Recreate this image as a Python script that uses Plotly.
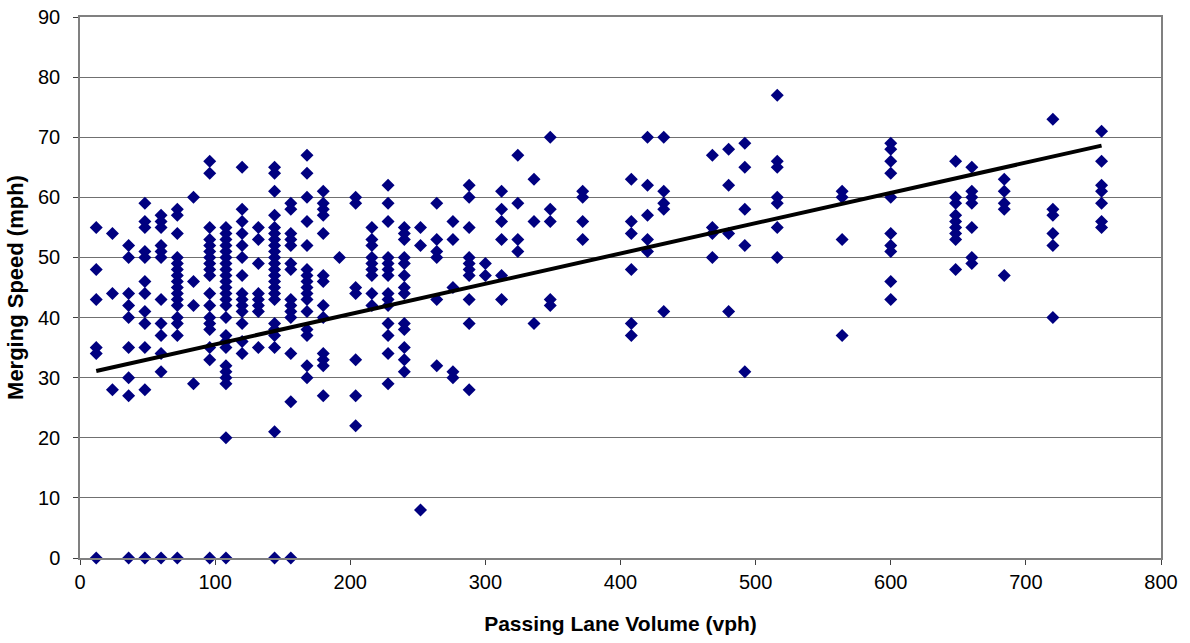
import numpy as np
import plotly.graph_objects as go

# Passing lane volume levels (vph) and the merging speeds (mph) observed at each
volume_levels = [12, 24, 36, 48, 60, 72, 84, 96, 108, 120, 132, 144, 156, 168, 180,
                 192, 204, 216, 228, 240, 252, 264, 276, 288, 300, 312, 324, 336, 348,
                 372, 408, 420, 432, 468, 480, 492, 516, 564, 600, 648, 660, 684, 720, 756]

speeds_by_level = [
    [55, 48, 43, 35, 34, 0],
    [54, 44, 28],
    [52, 50, 44, 42, 40, 35, 30, 27, 0],
    [59, 56, 55, 51, 50, 46, 44, 41, 39, 35, 28, 0],
    [57, 56, 55, 52, 51, 50, 43, 39, 37, 34, 31, 0],
    [58, 57, 54, 50, 49, 48, 47, 46, 45, 44, 43, 42, 40, 39, 37, 0],
    [60, 46, 42, 29],
    [66, 64, 55, 53, 52, 51, 50, 49, 48, 47, 44, 42, 40, 39, 38, 35, 33, 0],
    [55, 54, 53, 52, 51, 50, 49, 48, 47, 46, 45, 44, 43, 42, 40, 37, 36, 35, 32, 31, 30, 29, 20, 0],
    [65, 58, 56, 54, 52, 50, 47, 44, 43, 42, 41, 39, 36, 34],
    [55, 53, 49, 44, 43, 42, 41, 35],
    [65, 64, 61, 57, 55, 54, 53, 52, 51, 50, 49, 48, 47, 46, 45, 44, 43, 39, 38, 37, 35, 21, 0],
    [59, 58, 54, 53, 52, 49, 48, 43, 42, 41, 40, 34, 26, 0],
    [67, 64, 60, 56, 52, 48, 47, 46, 45, 44, 43, 41, 38, 37, 32, 30],
    [61, 59, 58, 57, 54, 47, 46, 42, 40, 34, 33, 32, 27],
    [50],
    [60, 59, 45, 44, 33, 27, 22],
    [55, 53, 52, 50, 49, 48, 47, 44, 42],
    [62, 59, 56, 50, 49, 48, 47, 44, 43, 42, 39, 37, 34, 29],
    [55, 54, 53, 50, 49, 47, 45, 44, 39, 38, 35, 33, 31],
    [55, 52, 8],
    [59, 53, 51, 50, 43, 32],
    [56, 53, 45, 31, 30],
    [62, 60, 55, 50, 49, 48, 47, 43, 39, 28],
    [49, 47],
    [61, 58, 56, 53, 47, 43],
    [67, 59, 53, 51],
    [63, 56, 39],
    [70, 58, 56, 43, 42],
    [61, 60, 56, 53],
    [63, 56, 54, 48, 39, 37],
    [70, 62, 57, 53, 51],
    [70, 61, 59, 58, 41],
    [67, 55, 54, 50],
    [68, 62, 54, 41],
    [69, 65, 58, 52, 31],
    [77, 66, 65, 60, 59, 55, 50],
    [61, 60, 53, 37],
    [69, 68, 66, 64, 60, 54, 52, 51, 46, 43],
    [66, 60, 59, 57, 56, 55, 54, 53, 48],
    [65, 61, 60, 59, 55, 50, 49],
    [63, 61, 59, 58, 47],
    [73, 58, 57, 54, 52, 40],
    [71, 66, 62, 61, 59, 56, 55],
]

# Linear trend line: speed = trend_intercept + trend_slope * volume
trend_slope = 0.0504
trend_intercept = 30.5

x_ticks = [0, 100, 200, 300, 400, 500, 600, 700, 800]
y_ticks = [0, 10, 20, 30, 40, 50, 60, 70, 80, 90]

volume = np.array([v for v, s in zip(volume_levels, speeds_by_level) for _ in s], dtype=float)
speed = np.array([y for s in speeds_by_level for y in s], dtype=float)

trend_x = np.array([volume.min(), volume.max()])
trend_y = trend_intercept + trend_slope * trend_x

fig = go.Figure()
fig.add_trace(go.Scatter(
    x=volume, y=speed, mode="markers",
    marker=dict(symbol="diamond", size=10, color="#000080", line=dict(width=0)),
    cliponaxis=False, showlegend=False,
))
fig.add_trace(go.Scatter(
    x=trend_x, y=trend_y, mode="lines",
    line=dict(color="black", width=4),
    showlegend=False,
))

family = "Liberation Sans, Arial, sans-serif"
tick_font = dict(family=family, size=20, color="black")

fig.update_layout(
    width=1190, height=643,
    margin=dict(l=80, r=29, t=17, b=85),
    paper_bgcolor="white", plot_bgcolor="white",
    font=tick_font,
)
fig.update_xaxes(
    range=[0, 800], tickvals=x_ticks, ticks="outside", ticklen=5, tickcolor="#404040",
    automargin=False,
    showgrid=False, zeroline=False,
    showline=True, linecolor="#808080", linewidth=1.5, mirror=True,
    tickfont=tick_font,
    title=dict(text="<b>Passing Lane Volume (vph)</b>",
               font=dict(family=family, size=21, color="black"), standoff=25),
)
fig.update_yaxes(
    range=[0, 90], tickvals=y_ticks, ticks="outside", ticklen=5, tickcolor="#404040",
    ticklabelstandoff=9, automargin=False,
    showgrid=True, gridcolor="#707070", gridwidth=1, zeroline=False,
    showline=True, linecolor="#808080", linewidth=1.5, mirror=True,
    tickfont=tick_font,
    title=dict(text="<b>Merging Speed (mph)</b>",
               font=dict(family=family, size=22, color="black"), standoff=8),
)

fig.write_html("out.html")
